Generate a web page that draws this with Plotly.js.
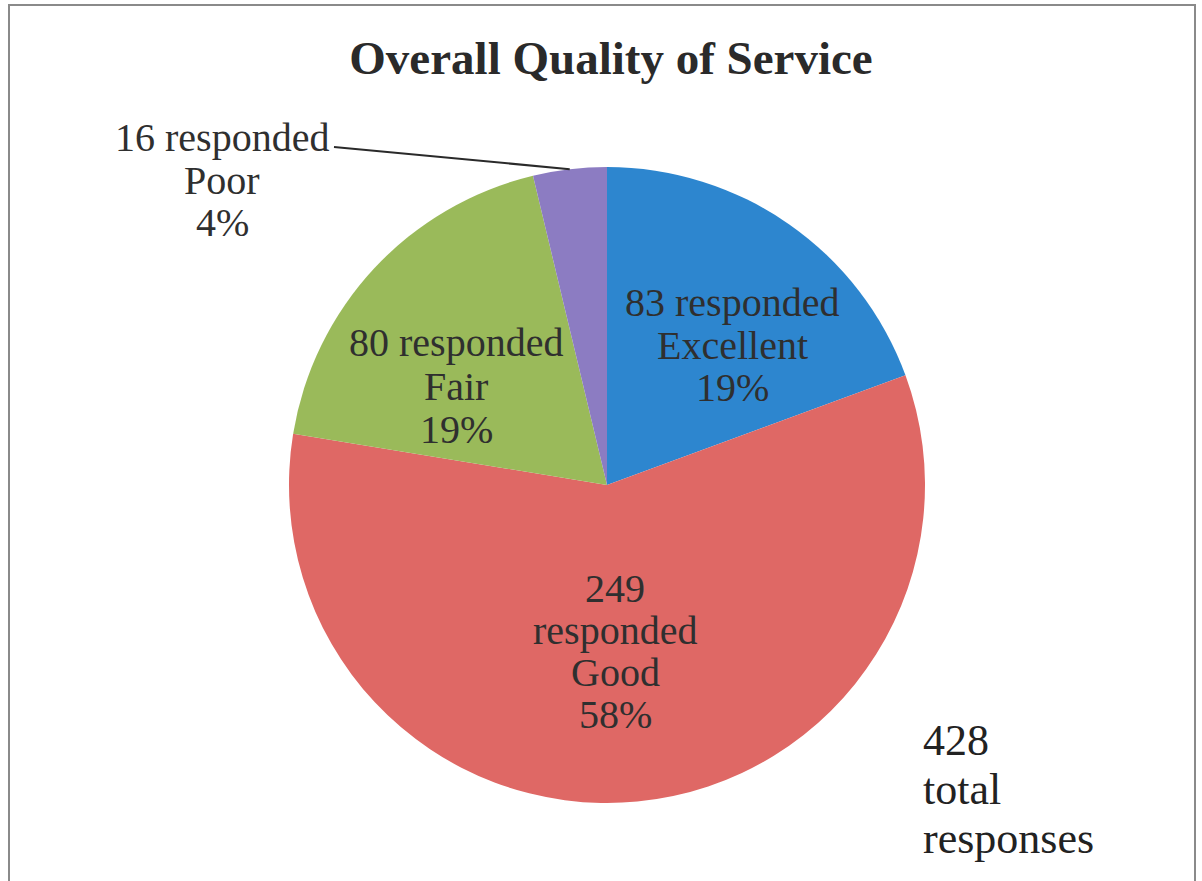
<!DOCTYPE html>
<html>
<head>
<meta charset="utf-8">
<script src="https://cdn.plot.ly/plotly-3.0.1.min.js"></script>
<style>html,body{margin:0;padding:0;background:#fff;}#chart{width:1202px;height:881px;}</style>
</head>
<body>
<div id="chart"></div>
<script>
const categories = ["Excellent", "Good", "Fair", "Poor"];
const responses = [83, 249, 80, 16];
const sliceColors = ["#2d86cf", "#df6865", "#9aba5a", "#8c7cc2"];
const titleText = "Overall Quality of Service";

const W = 1202, H = 881;
const total = responses.reduce((a, b) => a + b, 0);
const pct = responses.map(v => Math.round(v / total * 100) + "%");

// pie geometry (pixels)
const cx = 607, cy = 485, R = 318;
const dom = { x: [(cx - R) / W, (cx + R) / W], y: [(H - cy - R) / H, (H - cy + R) / H] };

// mid angle of last slice (clockwise from 12 o'clock) for the leader line
const before = responses.slice(0, 3).reduce((a, b) => a + b, 0);
const midFrac = (before + responses[3] / 2) / total;
const ang = midFrac * 2 * Math.PI;
const ex = cx + R * Math.sin(ang), ey = cy - R * Math.cos(ang);

const font = "Liberation Serif, Times New Roman, serif";
const txtColor = "#2f2f2f";

// label line layout: [x centre px, first line y px, line spacing px]
const labelLines = [
  [responses[0] + " responded", categories[0], pct[0]],
  [String(responses[1]), "responded", categories[1], pct[1]],
  [responses[2] + " responded", categories[2], pct[2]],
  [responses[3] + " responded", categories[3], pct[3]]
];
const labelPos = [[732, 303, 42], [615, 588, 42], [456, 343, 43], [222, 137, 43]];
const totalLines = [String(total), "total", "responses"];

const annotations = [];
labelLines.forEach((lines, i) => {
  const [x, y0, dy] = labelPos[i];
  lines.forEach((t, j) => annotations.push({
    xref: "paper", yref: "paper", x: x / W, y: 1 - (y0 + j * dy) / H,
    xanchor: "center", yanchor: "middle", showarrow: false, text: t,
    font: { family: font, size: 40, color: txtColor }
  }));
});
totalLines.forEach((t, j) => annotations.push({
  xref: "paper", yref: "paper", x: 921 / W, y: 1 - (740 + j * 49) / H,
  xanchor: "left", yanchor: "middle", showarrow: false, text: t,
  font: { family: font, size: 44, color: "#222" }
}));

const data = [{
  type: "pie",
  labels: categories,
  values: responses,
  sort: false,
  direction: "clockwise",
  rotation: 0,
  domain: dom,
  marker: { colors: sliceColors, line: { width: 0 } },
  textinfo: "none",
  hoverinfo: "none",
  showlegend: false
}];

const layout = {
  width: W, height: H,
  margin: { l: 0, r: 0, t: 0, b: 0 },
  paper_bgcolor: "#ffffff",
  title: { text: "<b>" + titleText + "</b>", font: { family: font, size: 47, color: "#2a2a2a" }, x: 611 / W, xanchor: "center", y: 1 - 58 / H, yanchor: "middle" },
  showlegend: false,
  shapes: [
    { type: "rect", xref: "paper", yref: "paper", x0: 9 / W, x1: 1195 / W, y0: -0.01, y1: 1 - 5 / H, line: { color: "#8a8a8a", width: 2 } },
    { type: "line", xref: "paper", yref: "paper", x0: 334 / W, y0: 1 - 147 / H, x1: ex / W, y1: 1 - ey / H, line: { color: "#2a2a2a", width: 2 } }
  ],
  annotations: annotations
};

Plotly.newPlot("chart", data, layout, { displayModeBar: false, staticPlot: true });
</script>
</body>
</html>
